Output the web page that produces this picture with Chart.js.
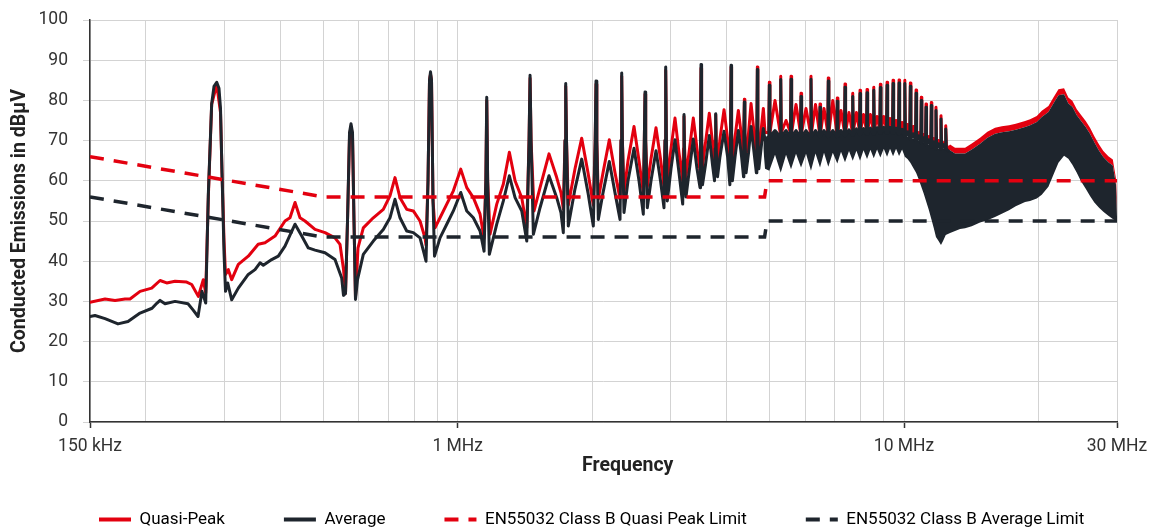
<!DOCTYPE html>
<html>
<head>
<meta charset="utf-8">
<title>Conducted Emissions</title>
<script src="https://cdn.jsdelivr.net/npm/chart.js@4.4.0/dist/chart.umd.min.js"></script>
<style>
    html, body { margin: 0; padding: 0; background: #fff; overflow: hidden; }
    #wrap { width: 1153px; height: 538px; }
</style>
</head>
<body>
<div id="wrap"><canvas id="emiChart" width="1153" height="538"></canvas></div>
<script>
// ==== DATA (frequency in MHz, level in dBµV) ====

// Quasi-Peak trace
const qpTrace = [
    [0.150, 29.8], [0.1621, 30.6], [0.1707, 30.25], [0.1797, 30.6], [0.1844, 30.6], [0.1942, 32.5],
    [0.2062, 33.3], [0.2153, 35.2], [0.2228, 34.6], [0.2326, 35.0], [0.2470, 34.8], [0.2535, 34.2],
    [0.2623, 31.25], [0.2691, 35.4], [0.2725, 32.1], [0.2762, 56], [0.2810, 79], [0.2884, 84],
    [0.2941, 77], [0.2964, 62], [0.2995, 45], [0.3018, 36.7], [0.3062, 37.9], [0.3116, 35.4],
    [0.3224, 39.2], [0.3394, 41.25], [0.3572, 44.2], [0.3700, 44.6], [0.3896, 46.25], [0.4102, 50],
    [0.4209, 50.8], [0.4320, 54.6], [0.4432, 50.8], [0.4548, 50], [0.4789, 47.9], [0.5042, 47.1],
    [0.5309, 45.8], [0.5448, 44.2], [0.5547, 38], [0.5605, 32], [0.5663, 50], [0.5722, 71],
    [0.5766, 73.5], [0.5811, 71], [0.5856, 50], [0.5901, 31], [0.5978, 43.3], [0.6144, 48.3],
    [0.6469, 50.8], [0.6812, 52.9], [0.7051, 56.25], [0.7235, 60.8], [0.7424, 55.8], [0.7686, 52.9],
    [0.7952, 52.5], [0.8232, 50], [0.8447, 45.8], [0.8491, 44], [0.8579, 60], [0.8645, 85],
    [0.8690, 86.5], [0.8735, 85], [0.8803, 55], [0.8894, 48.3], [0.9127, 50.8], [0.9450, 54.2],
    [0.9777, 57.5], [1.0157, 62.9], [1.0477, 58.3], [1.0839, 55.8], [1.1221, 51.7], [1.1455, 45.8],
    [1.1562, 60], [1.1615, 80], [1.1670, 60], [1.1814, 46.7], [1.2230, 54.2], [1.2654, 59.2],
    [1.3052, 67.1], [1.3442, 60], [1.3914, 55.8], [1.4278, 48.3], [1.4448, 70], [1.4523, 85.5],
    [1.4598, 70], [1.4826, 52.5], [1.5290, 58.3], [1.6015, 66.7], [1.6665, 60.8], [1.7038, 57],
    [1.7241, 53], [1.7393, 70], [1.7456, 83.5], [1.7528, 70], [1.7691, 54], [1.8314, 63],
    [1.8958, 70.6], [1.9584, 62], [2.0127, 54], [2.0325, 70], [2.0409, 84], [2.0494, 70],
    [2.0653, 55.5], [2.1159, 62], [2.1858, 70.2], [2.2511, 62], [2.3099, 55.5], [2.3218, 70],
    [2.3302, 86], [2.3386, 70], [2.3580, 57], [2.4072, 65], [2.4830, 73.5], [2.5478, 65],
    [2.6049, 57], [2.6184, 70], [2.6279, 81.5], [2.6373, 70], [2.6592, 58.5], [2.7105, 65.5],
    [2.7813, 73.2], [2.8465, 65.5], [2.8984, 58.5], [2.9134, 70], [2.9239, 87.5], [2.9345, 70],
    [2.9481, 60], [3.0049, 68], [3.0676, 75.6], [3.1317, 67], [3.1920, 60], [3.2052, 68],
    [3.2134, 76], [3.2234, 68], [3.2467, 61], [3.3060, 68], [3.3714, 75.6], [3.4364, 68],
    [3.4900, 62.5], [3.4990, 72], [3.5080, 88], [3.5189, 72], [3.5353, 63.5], [3.5905, 69.5],
    [3.6615, 76.8], [3.7225, 69.5], [3.7614, 64], [3.7750, 70], [3.7847, 76.5], [3.7945, 70],
    [3.8202, 64.5], [3.8690, 70.5], [3.9507, 77.7], [4.0238, 70.5], [4.0718, 63], [4.0865, 72],
    [4.0965, 88.3], [4.1076, 72], [4.1246, 64], [4.1823, 71], [4.2537, 77.5], [4.3245, 71],
    [4.3693, 64.5], [4.3762, 72], [4.3875, 80.3], [4.3989, 72], [4.4262, 65], [4.4836, 72],
    [4.5416, 79.2], [4.6125, 72], [4.6676, 65.5], [4.6796, 72], [4.6917, 88.3], [4.7038, 72],
    [4.7281, 66], [4.7821, 72.5], [4.839, 78], [4.881, 72],
    [4.976, 72], [4.991, 84.5], [5.006, 72], [5.139, 80],
    [5.277, 72], [5.293, 86], [5.309, 72], [5.440, 75],
    [5.565, 72], [5.582, 86], [5.599, 72], [5.727, 79],
    [5.859, 72], [5.877, 81.8], [5.895, 72], [6.030, 78],
    [6.168, 72], [6.187, 86], [6.206, 72], [6.333, 79],
    [6.463, 72], [6.482, 79.1], [6.501, 72], [6.617, 78],
    [6.745, 72], [6.765, 85.6], [6.785, 72], [6.924, 80],
    [7.066, 72], [7.087, 80.6], [7.108, 72], [7.224, 77.5],
    [7.352, 72.2], [7.374, 84.1], [7.396, 72.2], [7.528, 77],
    [7.651, 72.4], [7.674, 81.8], [7.697, 72.4], [7.822, 77],
    [7.944, 72.5], [7.968, 82.5], [7.992, 72.5], [8.114, 76.5],
    [8.237, 72.6], [8.262, 82.7], [8.287, 72.6], [8.408, 76.5],
    [8.527, 72.7], [8.553, 83.3], [8.579, 72.7], [8.700, 76],
    [8.822, 72.8], [8.849, 84], [8.876, 72.8], [9.006, 76],
    [9.134, 72.8], [9.161, 84.5], [9.188, 72.8], [9.303, 75.5],
    [9.421, 72.8], [9.449, 85], [9.477, 72.8], [9.596, 75],
    [9.717, 72.6], [9.746, 85.1], [9.775, 72.6], [9.898, 74.5],
    [10.01, 72], [10.04, 85], [10.07, 72], [10.18, 74],
    [10.30, 71.5], [10.33, 84.3], [10.36, 71.5], [10.49, 73.5],
    [10.61, 71], [10.64, 82.6], [10.67, 71], [10.79, 72],
    [10.90, 70.5], [10.93, 80.8], [10.96, 70.5], [11.07, 71.5],
    [11.17, 70], [11.20, 79.1], [11.23, 70], [11.36, 71],
    [11.48, 69.5], [11.51, 79.5], [11.54, 69.5], [11.66, 70.5],
    [11.75, 69], [11.79, 78.3], [11.83, 69], [11.95, 70],
    [12.06, 69], [12.10, 76.2], [12.14, 69], [12.25, 69.5],
    [12.36, 69], [12.40, 73.7], [12.44, 69], [12.55, 68]
];

// Average trace
const avgTrace = [
    [0.150, 26.25], [0.1539, 26.5], [0.1621, 25.7], [0.1733, 24.4], [0.1825, 25.0], [0.1942, 27.1],
    [0.2066, 28.3], [0.2120, 29.6], [0.2153, 30.25], [0.2209, 29.4], [0.2326, 30.0], [0.2487, 29.4],
    [0.2552, 27.9], [0.2619, 26.25], [0.2673, 32.5], [0.2725, 29.6], [0.2762, 56.7], [0.2810, 79.2],
    [0.2844, 83.5], [0.2884, 84.5], [0.2918, 83], [0.2941, 78], [0.2964, 62], [0.2995, 42],
    [0.3018, 32.5], [0.3052, 34.6], [0.3116, 30.4], [0.3224, 33.3], [0.3394, 36.7], [0.3514, 37.9],
    [0.3606, 39.6], [0.3668, 39.0], [0.3830, 40.4], [0.3963, 41.25], [0.4102, 43.75], [0.4209, 46.5],
    [0.4320, 49.2], [0.4472, 46.25], [0.4626, 43.3], [0.4789, 42.75], [0.5042, 42.1], [0.5309, 40.4],
    [0.5496, 35.8], [0.5547, 31.5], [0.5605, 32], [0.5663, 50], [0.5722, 72], [0.5766, 74.2],
    [0.5811, 72], [0.5856, 50], [0.5901, 30.5], [0.5963, 35.4], [0.6144, 41.7], [0.6469, 45],
    [0.6812, 47.9], [0.7051, 50.8], [0.7235, 55.4], [0.7424, 50.8], [0.7686, 47.5], [0.7952, 47.1],
    [0.8232, 45.8], [0.8403, 42], [0.8491, 40], [0.8579, 60], [0.8645, 85], [0.8690, 87.1],
    [0.8735, 85], [0.8803, 55], [0.8871, 41.25], [0.9127, 45.8], [0.9450, 49.2], [0.9777, 52.5],
    [1.0157, 57.1], [1.0477, 52.5], [1.0839, 50.8], [1.1221, 47.5], [1.1455, 42.5], [1.1562, 60],
    [1.1615, 80.8], [1.1670, 60], [1.1772, 41.7], [1.2230, 49.2], [1.2654, 55], [1.3052, 61.25],
    [1.3442, 55.8], [1.3914, 52.5], [1.4278, 45], [1.4448, 70], [1.4523, 86.25], [1.4598, 70],
    [1.4772, 46.7], [1.5290, 53.3], [1.6015, 61.25], [1.6665, 55.8], [1.7038, 52], [1.7241, 47.1],
    [1.7393, 70], [1.7456, 84.2], [1.7528, 70], [1.7691, 48.75], [1.8314, 58], [1.8958, 65.4],
    [1.9584, 57], [2.0127, 48.75], [2.0325, 70], [2.0409, 84.8], [2.0494, 70], [2.0653, 50.4],
    [2.1159, 57], [2.1858, 64.8], [2.2511, 57], [2.3099, 50.4], [2.3218, 70], [2.3302, 86.8],
    [2.3386, 70], [2.3580, 52.1], [2.4072, 60], [2.4830, 68.1], [2.5478, 60], [2.6049, 51.7],
    [2.6184, 70], [2.6279, 82.1], [2.6373, 70], [2.6592, 53.3], [2.7105, 60], [2.7813, 67.5],
    [2.8465, 60], [2.8984, 53.3], [2.9134, 70], [2.9239, 88.3], [2.9345, 70], [2.9481, 55],
    [3.0049, 63], [3.0676, 70.2], [3.1317, 62], [3.1920, 54.2], [3.2052, 65], [3.2134, 76.5],
    [3.2234, 65], [3.2467, 56], [3.3060, 63], [3.3714, 70.4], [3.4364, 63], [3.4900, 58.3],
    [3.4990, 70], [3.5080, 88.9], [3.5189, 70], [3.5353, 59], [3.5905, 64], [3.6615, 71.25],
    [3.7225, 64], [3.7614, 60], [3.7750, 68], [3.7847, 76.7], [3.7945, 68], [3.8202, 61],
    [3.8690, 66], [3.9507, 72.3], [4.0238, 66], [4.0718, 59], [4.0865, 72], [4.0965, 88.75],
    [4.1076, 72], [4.1246, 60], [4.1823, 66], [4.2537, 72.5], [4.3245, 66], [4.3693, 61],
    [4.3762, 72], [4.3875, 79.6], [4.3989, 72], [4.4262, 62], [4.4836, 67], [4.5416, 73.5],
    [4.6125, 67], [4.6676, 62], [4.6796, 72], [4.6917, 87.7], [4.7038, 72], [4.7281, 63],
    [4.7821, 68], [4.839, 73], [4.881, 70],
    [4.976, 71], [4.991, 83.75], [5.006, 71], [5.139, 72.5],
    [5.277, 71], [5.293, 85.2], [5.309, 71], [5.440, 72.5],
    [5.565, 71], [5.582, 85.25], [5.599, 71], [5.727, 72.5],
    [5.859, 71], [5.877, 81], [5.895, 71], [6.030, 72.5],
    [6.168, 71], [6.187, 85.25], [6.206, 71], [6.333, 72.5],
    [6.463, 71], [6.482, 78.3], [6.501, 71], [6.617, 72.5],
    [6.745, 71], [6.765, 84.8], [6.785, 71], [6.924, 72.5],
    [7.066, 71], [7.087, 79.8], [7.108, 71], [7.224, 72.5],
    [7.352, 71.2], [7.374, 83.3], [7.396, 71.2], [7.528, 72.7],
    [7.651, 71.4], [7.674, 81], [7.697, 71.4], [7.822, 72.9],
    [7.944, 71.5], [7.968, 81.7], [7.992, 71.5], [8.114, 73],
    [8.237, 71.6], [8.262, 81.9], [8.287, 71.6], [8.408, 73.1],
    [8.527, 71.7], [8.553, 82.5], [8.579, 71.7], [8.700, 73.2],
    [8.822, 71.8], [8.849, 83.2], [8.876, 71.8], [9.006, 73.3],
    [9.134, 71.8], [9.161, 83.75], [9.188, 71.8], [9.303, 73.3],
    [9.421, 71.8], [9.449, 84.2], [9.477, 71.8], [9.596, 73.1],
    [9.717, 71.6], [9.746, 84.3], [9.775, 71.6], [9.898, 72.8],
    [10.01, 71], [10.04, 84.2], [10.07, 71], [10.18, 72.2],
    [10.30, 70.5], [10.33, 83.5], [10.36, 70.5], [10.49, 71.7],
    [10.61, 70], [10.64, 81.8], [10.67, 70], [10.79, 71.2],
    [10.90, 69.5], [10.93, 80], [10.96, 69.5], [11.07, 70.7],
    [11.17, 69], [11.20, 78.3], [11.23, 69], [11.36, 70.2],
    [11.48, 68.5], [11.51, 78.75], [11.54, 68.5], [11.66, 69.7],
    [11.75, 68], [11.79, 77.5], [11.83, 68], [11.95, 69.2],
    [12.06, 68], [12.10, 75.4], [12.14, 68], [12.25, 69],
    [12.36, 68], [12.40, 72.9], [12.44, 68], [12.55, 67.5]
];

// Dense harmonic region above ~5 MHz: lower edge, top of the dark band, top of the red caps
const bandFreq = [
    4.839, 4.881, 4.991, 5.139, 5.293, 5.440, 5.582, 5.727, 5.877, 6.030,
    6.187, 6.333, 6.482, 6.617, 6.765, 6.924, 7.087, 7.224, 7.374, 7.528,
    7.674, 7.822, 7.968, 8.114, 8.262, 8.408, 8.553, 8.700, 8.849, 9.006,
    9.161, 9.303, 9.449, 9.596, 9.746, 9.898, 10.04, 10.18, 10.33, 10.49,
    10.64, 10.79, 10.93, 11.07, 11.20, 11.36, 11.51, 11.66, 11.79, 11.95,
    12.10, 12.25, 12.40, 12.68, 13.01, 13.35, 13.70, 14.18, 14.80, 15.37,
    15.99, 16.56, 17.19, 17.79, 18.67, 19.16, 19.83, 20.35, 21.06, 21.61,
    22.18, 22.83, 23.34, 23.83, 24.38, 24.88, 25.53, 26.10, 26.69, 27.35,
    27.96, 28.69, 29.36, 29.85, 30.0
];
const bandLow = [
    68, 63, 62.5, 66.5, 62, 66.5, 62.9, 66.7, 63.3, 66.7,
    62.5, 66.8, 63.3, 67, 63.5, 67, 64.3, 67.2, 64.6, 67.4,
    65, 67.5, 65, 67.6, 65.4, 67.7, 65.6, 67.8, 65.8, 68,
    66, 68, 66.1, 68, 66.2, 67.8, 66, 65.4, 64.5, 63.2,
    62, 60.3, 58.5, 56.8, 55, 52.8, 50.5, 48.2, 46, 45,
    44, 45.2, 46.5, 47, 47.5, 48, 48.2, 48.7, 49.6, 50.2,
    51, 51.8, 52.7, 53.7, 54.7, 55, 55.6, 56.5, 58.5, 61.5,
    64.5, 66.25, 65.5, 64, 62, 60, 58, 56.2, 54.6, 53.3,
    52.3, 51.3, 50.5, 50, 50
];
const bandTop = [
    70, 71, 71, 72, 71, 72, 71, 72, 71, 72,
    71, 72, 71, 72, 71, 72, 71, 72, 71.2, 72.2,
    71.4, 72.4, 71.5, 72.5, 71.6, 72.6, 71.7, 72.7, 71.8, 72.8,
    71.8, 72.8, 71.8, 72.6, 71.6, 72.3, 71, 71, 70.5, 70.5,
    70, 70, 69.5, 69.5, 69, 69, 68.5, 68.5, 68, 68,
    68, 68, 68, 67.6, 66.8, 66.8, 66.8, 67.8, 69.2, 70.7,
    71.7, 72.1, 72.3, 72.7, 73.4, 73.8, 74.6, 75.9, 77.1, 79.2,
    81.3, 81.5, 79.2, 78.4, 76.3, 75, 73.4, 71.7, 69.6, 67.5,
    65.9, 64.6, 63.8, 59, 51
];
const bandRedTop = [
    70, 71, 71, 72, 71, 72, 71, 72, 71, 72,
    71, 72, 71, 72, 71, 72, 71, 72, 71.2, 72.2,
    71.4, 72.4, 71.5, 72.5, 71.6, 72.6, 71.7, 72.7, 71.8, 72.8,
    71.8, 72.8, 71.8, 72.6, 71.6, 72.3, 71, 71, 70.5, 70.5,
    70, 70, 69.5, 69.5, 69, 69, 68.5, 68.5, 68, 68,
    68, 68, 68, 69, 68.2, 68.2, 68.2, 69.3, 70.7, 72.2,
    73.2, 73.6, 73.8, 74.2, 74.9, 75.3, 76.1, 77.4, 78.6, 80.7,
    82.8, 83, 80.7, 79.9, 77.8, 76.5, 74.9, 73.2, 71.1, 69,
    67.4, 66.1, 65.3, 60.5, 56
];

// EN55032 Class B limits
const qpLimit = [[0.15, 66], [0.5, 56], [4.87, 56], [4.93, 60], [30, 60]];
const avgLimit = [[0.15, 56], [0.5, 46], [4.87, 46], [4.93, 50], [30, 50]];

// x axis: grid positions and the labelled ones
const xGridValues = [0.15, 0.2, 0.3, 0.4, 0.5, 0.6, 0.7, 0.8, 0.9, 1, 2, 3, 4, 5, 6, 7, 8, 9, 10, 20, 30];
const xLabelValues = [0.15, 1, 10, 30];
const xLabelTexts = ['150 kHz', '1 MHz', '10 MHz', '30 MHz'];

// ==== STYLE ====
const RED = '#e3000f';
const DARK = '#1e252d';
const GRID = '#d3d3d3';
const AXIS = '#333333';
const FONT = 'Roboto, "Noto Sans", sans-serif';

function toXY(list) {
    return list.map(p => ({ x: p[0], y: p[1] }));
}

function bandXY(values) {
    return bandFreq.map((f, i) => ({ x: f, y: values[i] }));
}

function xLabel(value) {
    const i = xLabelValues.findIndex(v => Math.abs(v - value) < 1e-9);
    return i >= 0 ? xLabelTexts[i] : '';
}

const lineBase = {
    pointRadius: 0,
    tension: 0,
    fill: false,
    borderJoinStyle: 'round',
    borderCapStyle: 'round'
};

const ctx = document.getElementById('emiChart');

new Chart(ctx, {
    type: 'line',
    data: {
        datasets: [
            Object.assign({}, lineBase, {
                label: 'Quasi-Peak', data: toXY(qpTrace),
                borderColor: RED, borderWidth: 3, order: 3
            }),
            Object.assign({}, lineBase, {
                label: 'Average', data: toXY(avgTrace),
                borderColor: DARK, borderWidth: 3, order: 2
            }),
            Object.assign({}, lineBase, {
                label: 'EN55032 Class B Quasi Peak Limit', data: toXY(qpLimit),
                borderColor: RED, borderWidth: 3.5, borderDash: [14, 10],
                borderCapStyle: 'butt', borderJoinStyle: 'miter', order: 1
            }),
            Object.assign({}, lineBase, {
                label: 'EN55032 Class B Average Limit', data: toXY(avgLimit),
                borderColor: DARK, borderWidth: 3.5, borderDash: [14, 10],
                borderCapStyle: 'butt', borderJoinStyle: 'miter', order: 0
            }),
            // dense band (not in legend)
            Object.assign({}, lineBase, {
                label: 'band-low', data: bandXY(bandLow),
                borderColor: 'rgba(0,0,0,0)', borderWidth: 1, order: 6
            }),
            Object.assign({}, lineBase, {
                label: 'band-top', data: bandXY(bandTop),
                borderColor: 'rgba(0,0,0,0)', borderWidth: 1, fill: '-1',
                backgroundColor: DARK, order: 5
            }),
            Object.assign({}, lineBase, {
                label: 'band-red', data: bandXY(bandRedTop),
                borderColor: 'rgba(0,0,0,0)', borderWidth: 1, fill: '-1',
                backgroundColor: RED, order: 7
            })
        ]
    },
    options: {
        responsive: false,
        animation: false,
        devicePixelRatio: 1,
        layout: { padding: { top: 20, right: 0, left: 40, bottom: 0 } },
        plugins: {
            tooltip: { enabled: false },
            legend: {
                position: 'bottom',
                align: 'start',
                labels: {
                    usePointStyle: true,
                    pointStyleWidth: 32,
                    padding: 59,
                    color: '#222',
                    font: { family: FONT, size: 17 },
                    generateLabels(chart) {
                        return chart.data.datasets.slice(0, 4).map((ds, i) => ({
                            text: ds.label,
                            fillStyle: ds.borderColor,
                            strokeStyle: ds.borderColor,
                            lineWidth: 4,
                            lineDash: ds.borderDash || [],
                            lineCap: 'butt',
                            pointStyle: 'line',
                            hidden: false,
                            datasetIndex: i
                        }));
                    }
                }
            }
        },
        scales: {
            x: {
                type: 'logarithmic',
                min: 0.15,
                max: 30,
                afterBuildTicks(scale) {
                    scale.ticks = xGridValues.map(v => ({ value: v }));
                },
                afterFit(scale) {
                    // legend uses a large padding, so the axis box is kept short
                    scale.height = 30;
                    scale.paddingRight = 36;
                },
                ticks: {
                    autoSkip: false,
                    maxRotation: 0,
                    padding: 8,
                    color: AXIS,
                    font: { family: FONT, size: 17.5 },
                    callback: value => xLabel(value)
                },
                grid: {
                    color: GRID,
                    lineWidth: 1,
                    tickLength: 6,
                    tickWidth: 1.5,
                    tickColor: c => (c.tick && xLabel(c.tick.value) ? AXIS : 'rgba(0,0,0,0)')
                },
                border: { color: AXIS, width: 1.5 },
                title: {
                    display: true,
                    text: '          Frequency',
                    color: '#222',
                    font: { family: FONT, size: 19.5, weight: 'bold' },
                    padding: { top: 0, bottom: -25.5 }
                }
            },
            y: {
                min: 0,
                max: 100,
                afterFit(scale) {
                    scale.width = 50;
                    scale.paddingTop = 0;
                    scale.paddingBottom = 0;
                },
                ticks: {
                    stepSize: 10,
                    padding: 15,
                    color: AXIS,
                    font: { family: FONT, size: 17.5 }
                },
                grid: { color: GRID, lineWidth: 1, tickLength: 7 },
                border: { color: AXIS, width: 1.5 },
                title: {
                    display: true,
                    text: 'Conducted Emissions in dBµV',
                    color: '#222',
                    font: { family: FONT, size: 19.5, weight: 'bold' },
                    padding: { top: -32, bottom: 0 }
                }
            }
        }
    }
});
</script>
</body>
</html>
